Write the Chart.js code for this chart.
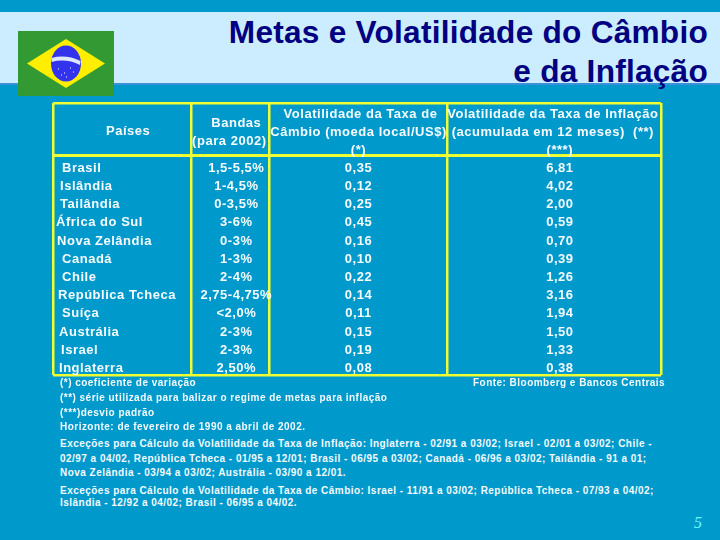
<!DOCTYPE html>
<html>
<head>
<meta charset="utf-8">
<script src="https://cdn.jsdelivr.net/npm/chart.js@4"></script>
<style>
    html, body { margin: 0; padding: 0; }
    body { position: relative; width: 720px; height: 540px; overflow: hidden; background: #0099cc;
           font-family: "Liberation Sans", Arial, sans-serif; }
    #band { position: absolute; left: 0; top: 12px; width: 720px; height: 71px; background: #ccecff;
            border-bottom: 2px solid #3d8fd9; }
    #title { position: absolute; right: 12px; top: 13px; text-align: right; color: #000080; font-weight: bold;
             font-size: 31.6px; line-height: 39px; letter-spacing: 0.25px; white-space: nowrap; }
    #flag { position: absolute; left: 18px; top: 31px; }
    #tableChart { position: absolute; left: 50px; top: 100px; }
    .note { position: absolute; left: 60px; color: #f4fbff; font-weight: bold; font-size: 10px; line-height: 12px;
            letter-spacing: 0.47px; white-space: pre; }
    #page { position: absolute; left: 694px; top: 514px; color: #66ffff; font: italic 16px "Liberation Serif", serif; }
</style>
</head>
<body>
<div id="band"></div>
<div id="title">Metas e Volatilidade do Câmbio<br>e da Inflação</div>
<svg id="flag" width="96" height="65" viewBox="0 0 96 65">
    <rect width="96" height="65" fill="#339933"/>
    <polygon points="9,32.5 48,8 87,32.5 48,57" fill="#ffee00"/>
    <ellipse cx="48" cy="32.5" rx="15" ry="18" fill="#3333ee"/>
    <path d="M33.5 27 Q48 23 62.5 30 L62 34 Q48 27 33.5 31 Z" fill="#dde6f5"/>
    <path d="M40 38h1M46 42h1M52 37h1M55 41h1M48 46h1M43 44h1" stroke="#fff" stroke-width="1"/>
</svg>
<canvas id="tableChart" width="614" height="278" style="width:614px;height:278px"></canvas>

<div class="note" style="top:377px">(*) coeficiente de variação</div>
<div class="note" style="top:392px">(**) série utilizada para balizar o regime de metas para inflação</div>
<div class="note" style="top:407px">(***)desvio padrão</div>
<div class="note" style="top:421px">Horizonte: de fevereiro de 1990 a abril de 2002.</div>
<div class="note" style="top:438px">Exceções para Cálculo da Volatilidade da Taxa de Inflação: Inglaterra - 02/91 a 03/02; Israel - 02/01 a 03/02; Chile -</div>
<div class="note" style="top:453px">02/97 a 04/02, República Tcheca - 01/95 a 12/01; Brasil - 06/95 a 03/02; Canadá - 06/96 a 03/02; Tailândia - 91 a 01;</div>
<div class="note" style="top:467px">Nova Zelândia - 03/94 a 03/02; Austrália - 03/90 a 12/01.</div>
<div class="note" style="top:485px">Exceções para Cálculo da Volatilidade da Taxa de Câmbio: Israel - 11/91 a 03/02; República Tcheca - 07/93 a 04/02;</div>
<div class="note" style="top:497px">Islândia - 12/92 a 04/02; Brasil - 06/95 a 04/02.</div>
<div class="note" style="top:377px;left:473px">Fonte: Bloomberg e Bancos Centrais</div>
<div id="page">5</div>

<script>
const countries = ['Brasil', 'Islândia', 'Tailândia', 'África do Sul', 'Nova Zelândia', 'Canadá', 'Chile',
    'República Tcheca', 'Suíça', 'Austrália', 'Israel', 'Inglaterra'];
const bandas = ['1,5-5,5%', '1-4,5%', '0-3,5%', '3-6%', '0-3%', '1-3%', '2-4%', '2,75-4,75%', '<2,0%', '2-3%', '2-3%', '2,50%'];
const volCambio = [0.35, 0.12, 0.25, 0.45, 0.16, 0.10, 0.22, 0.14, 0.11, 0.15, 0.19, 0.08];
const volInflacao = [6.81, 4.02, 2.00, 0.59, 0.70, 0.39, 1.26, 3.16, 1.94, 1.50, 1.33, 0.38];

const headerPaises = ['Países'];
const headerBandas = ['Bandas', '(para 2002)'];
const headerCambio = ['Volatilidade da Taxa de', 'Câmbio (moeda local/US$)', '(*)'];
const headerInflacao = ['Volatilidade da Taxa de Inflação', '(acumulada em 12 meses)  (**)', '(***)'];

// table geometry, x scale runs in page pixels, y scale in table rows (0 = Brasil)
const columnLines = [53, 191, 269, 447, 660];
const rowLines = [-3.52, -0.66, 11.41];
const countryIndent = [6, 4, 4, 0, 1, 6, 6, 2, 6, 3, 5, 3];

const fmt = v => v.toFixed(2).replace('.', ',');

function column(x, texts, align, indent) {
    return {
        data: texts.map((t, i) => ({ x: x + (indent ? indent[i] : 0), y: i })),
        cellText: texts,
        cellAlign: align || 'center',
        pointRadius: 0
    };
}

function header(x, texts, rows) {
    return {
        data: texts.map((t, i) => ({ x: x, y: rows[i] })),
        cellText: texts,
        cellAlign: 'center',
        pointRadius: 0
    };
}

// writes each dataset's text at the pixel position of its points
const cellTextPlugin = {
    id: 'cellText',
    afterDatasetsDraw(chart) {
        const ctx = chart.ctx;
        ctx.save();
        ctx.fillStyle = '#f6fcff';
        ctx.font = 'bold 13px "Liberation Sans", Arial, sans-serif';
        ctx.letterSpacing = '0.52px';
        ctx.textBaseline = 'middle';
        chart.data.datasets.forEach((ds, d) => {
            ctx.textAlign = ds.cellAlign;
            chart.getDatasetMeta(d).data.forEach((pt, i) => {
                ctx.fillText(ds.cellText[i], pt.x, pt.y + 1);
            });
        });
        ctx.restore();
    }
};

new Chart(document.getElementById('tableChart').getContext('2d'), {
    type: 'scatter',
    data: {
        datasets: [
            column(56, countries, 'left', countryIndent),
            column(236, bandas),
            column(358, volCambio.map(fmt)),
            column(559, volInflacao.map(fmt)),
            header(128, headerPaises, [-2.04]),
            header(236, headerBandas.slice(0, 1), [-2.48]),
            header(229, headerBandas.slice(1), [-1.49]),
            header(360, headerCambio.slice(0, 1), [-2.97]),
            header(358, headerCambio.slice(1), [-1.98, -0.99]),
            header(552, headerInflacao.slice(0, 2), [-2.97, -1.98]),
            header(559, headerInflacao.slice(2), [-0.99])
        ]
    },
    options: {
        responsive: false,
        animation: false,
        layout: { padding: { left: 3, right: 3, top: 3, bottom: 3 } },
        plugins: { legend: { display: false }, tooltip: { enabled: false } },
        scales: {
            x: {
                type: 'linear',
                min: columnLines[0],
                max: columnLines[columnLines.length - 1],
                afterBuildTicks: s => { s.ticks = columnLines.map(v => ({ value: v })); },
                ticks: { display: false, autoSkip: false },
                border: { display: false },
                grid: { color: '#eeff33', lineWidth: 2.5, drawTicks: false }
            },
            y: {
                type: 'linear',
                reverse: true,
                min: rowLines[0],
                max: rowLines[rowLines.length - 1],
                afterBuildTicks: s => { s.ticks = rowLines.map(v => ({ value: v })); },
                ticks: { display: false, autoSkip: false },
                border: { display: false },
                grid: { color: '#eeff33', lineWidth: c => (c.index === 1 ? 3 : 2.5), drawTicks: false }
            }
        }
    },
    plugins: [cellTextPlugin]
});
</script>
</body>
</html>
